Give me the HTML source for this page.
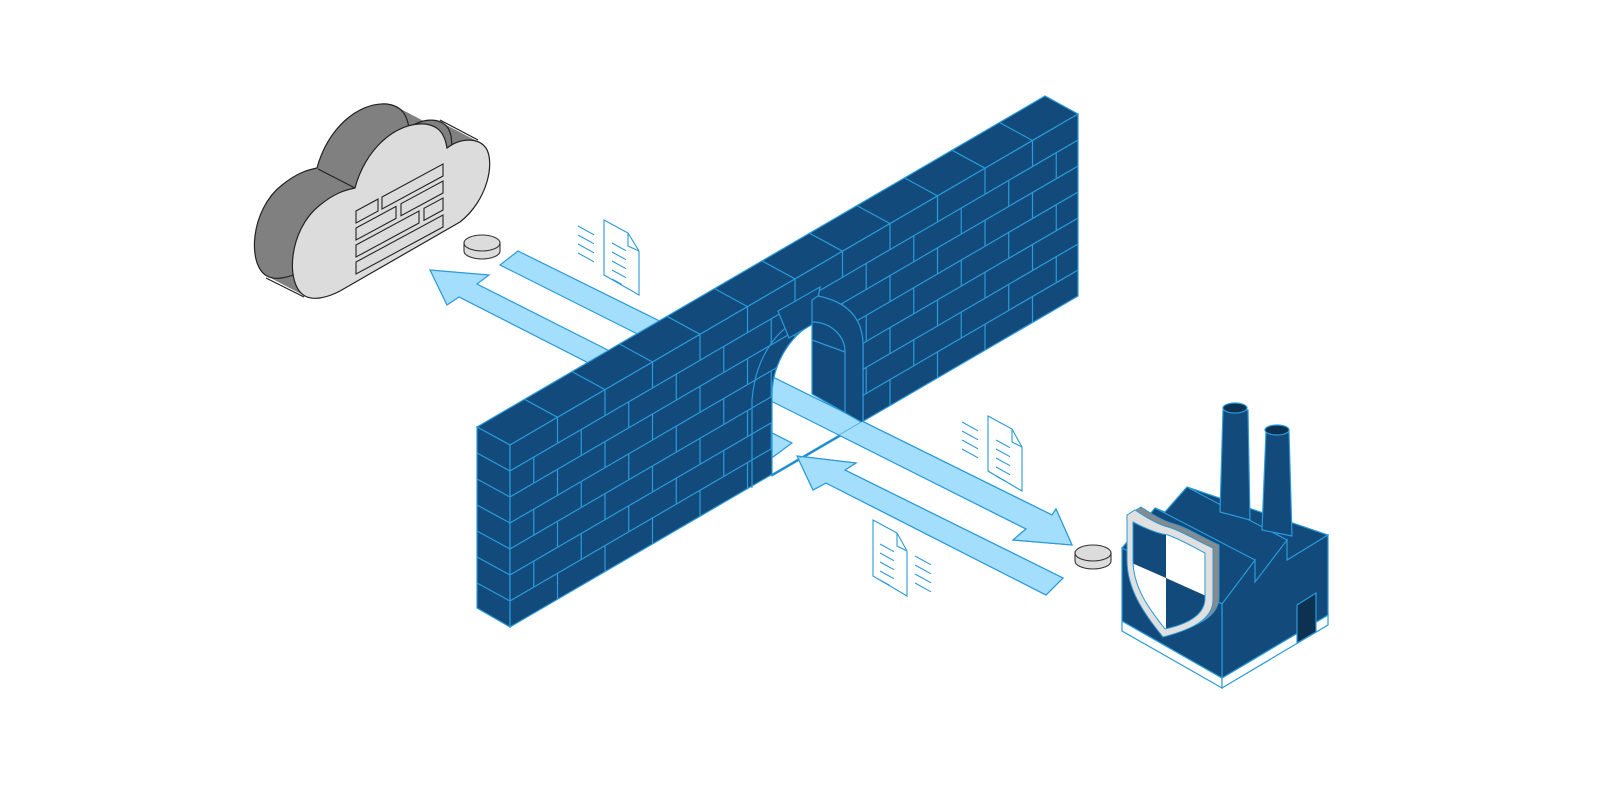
<!DOCTYPE html>
<html><head><meta charset="utf-8"><style>html,body{margin:0;padding:0;background:#fff}svg{display:block}</style></head>
<body>
<svg width="1600" height="800" viewBox="0 0 1600 800" xmlns="http://www.w3.org/2000/svg">
<defs>
<clipPath id="wallclip"><path clip-rule="evenodd" d="M510,445 L1078,114 L1078,296 L510,627 Z M772,476 L772,396 C772,360 795,330 817,322 C840,314 863,322 863,343 L863,423 Z"/></clipPath>
<clipPath id="front"><polygon points="0,924 1600,-8 1600,800 0,800"/></clipPath>
<g id="arrows">
<polygon points="430,270 489,275 477,284 792,443 773,457 459,297 447,305" fill="#a3defc" stroke="#2a9ad8" stroke-width="1.2"/>
<polygon points="518,251 1052,515 1056,509 1072,545 1013,540 1026,529 500,265" fill="#a3defc" stroke="#2a9ad8" stroke-width="1.2"/>
<polygon points="797,456 856,463 845,470 1063,578 1046,595 826,483 813,490" fill="#a3defc" stroke="#2a9ad8" stroke-width="1.2"/>
</g>
<path id="cloudP" d="M305,296 C285,285 288,230 320,205 C335,193 345,190 355,188 C365,150 395,122 425,124 C440,126 445,135 447,148 C460,138 478,137 486,148 C495,162 488,200 460,222 L340,291 C325,299 312,300 305,296 Z"/>
<path id="evenJ" d="M557.5,417.3v26M605,389.6v26M652.5,362v26M700,334.3v26M747.5,306.6v26M795,278.9v26M842.5,251.2v26M890,223.6v26M937.5,195.9v26M985,168.2v26M1032.5,140.5v26"/>
<path id="oddJ" d="M533.75,457.2v26M581.25,429.5v26M628.75,401.8v26M676.25,374.1v26M723.75,346.4v26M771.25,318.8v26M818.75,291.1v26M866.25,263.4v26M913.75,235.7v26M961.25,208v26M1008.75,180.4v26M1056.25,152.7v26"/>
</defs>

<!-- cloud back sweep -->
<g fill="#808080">
<use href="#cloudP" transform="translate(-2,-1.05)"/><use href="#cloudP" transform="translate(-4,-2.1)"/><use href="#cloudP" transform="translate(-6,-3.15)"/><use href="#cloudP" transform="translate(-8,-4.2)"/><use href="#cloudP" transform="translate(-10,-5.25)"/><use href="#cloudP" transform="translate(-12,-6.3)"/><use href="#cloudP" transform="translate(-14,-7.35)"/><use href="#cloudP" transform="translate(-16,-8.4)"/><use href="#cloudP" transform="translate(-18,-9.45)"/><use href="#cloudP" transform="translate(-20,-10.5)"/><use href="#cloudP" transform="translate(-22,-11.55)"/><use href="#cloudP" transform="translate(-24,-12.6)"/><use href="#cloudP" transform="translate(-26,-13.65)"/><use href="#cloudP" transform="translate(-28,-14.7)"/><use href="#cloudP" transform="translate(-30,-15.75)"/><use href="#cloudP" transform="translate(-32,-16.8)"/><use href="#cloudP" transform="translate(-34,-17.85)"/><use href="#cloudP" transform="translate(-36,-18.9)"/>
</g>
<use href="#cloudP" transform="translate(-38,-20)" fill="#808080" stroke="#222" stroke-width="1.2"/>
<g stroke="#222" stroke-width="1.2"><line x1="318" y1="169" x2="355" y2="188"/><line x1="266" y1="278" x2="304" y2="297"/><line x1="440" y1="120" x2="478" y2="140"/></g>
<use href="#cloudP" fill="#dcdcdc" stroke="#222" stroke-width="1.2"/>
<g fill="none" stroke="#222" stroke-width="1.1">
<polygon points="356,211 378,199.1 378,211.1 356,223"/>
<polygon points="382,197 443,164 443,176 382,209"/>
<polygon points="356,228 396,206.4 396,218.4 356,240"/>
<polygon points="401,203.7 443,181 443,193 401,215.7"/>
<polygon points="356,245 419,211 419,223 356,257"/>
<polygon points="424,208.3 443,198 443,210 424,220.3"/>
<polygon points="356,262 443,215 443,227 356,274"/>
</g>

<!-- coins -->
<g stroke="#333" stroke-width="1.1" fill="#dcdcdc">
<path d="M464,243 L464,251 A18,8 0 0 0 500,251 L500,243 Z"/><ellipse cx="482" cy="243" rx="18" ry="8"/>
<path d="M1075,553 L1075,561 A18,8 0 0 0 1111,561 L1111,553 Z"/><ellipse cx="1093" cy="553" rx="18" ry="8"/>
</g>

<use href="#arrows"/>

<!-- wall -->
<polygon points="477,427 510,445 1078,114 1045,96" fill="#134a7c" stroke="#2a9ad8" stroke-width="1.2"/>
<polygon points="477,427 510,445 510,627 477,608" fill="#134a7c" stroke="#2a9ad8" stroke-width="1.2"/>
<path fill-rule="evenodd" d="M510,445 L1078,114 L1078,296 L510,627 Z M772,476 L772,396 C772,360 795,330 817,322 C840,314 863,322 863,343 L863,423 Z" fill="#134a7c" stroke="#2a9ad8" stroke-width="1.2"/>
<g clip-path="url(#wallclip)" stroke="#2a9ad8" stroke-width="1.2" fill="none">
<path d="M510,471L1078,140M510,497L1078,166M510,523L1078,192M510,549L1078,218M510,575L1078,244M510,601L1078,270"/>
<use href="#evenJ"/><use href="#evenJ" transform="translate(0,52)"/><use href="#evenJ" transform="translate(0,104)"/><use href="#evenJ" transform="translate(0,156)"/>
<use href="#oddJ"/><use href="#oddJ" transform="translate(0,52)"/><use href="#oddJ" transform="translate(0,104)"/>
</g>
<path stroke="#2a9ad8" stroke-width="1.2" fill="none" d="M557.5,417.3l-33,-18M605,389.6l-33,-18M652.5,362l-33,-18M700,334.3l-33,-18M747.5,306.6l-33,-18M795,278.9l-33,-18M842.5,251.2l-33,-18M890,223.6l-33,-18M937.5,195.9l-33,-18M985,168.2l-33,-18M1032.5,140.5l-33,-18M477,453L510,471M477,479L510,497M477,505L510,523M477,531L510,549M477,557L510,575M477,583L510,601"/>
<path d="M752,488 L752,400 C755,360 775,332 795,322" fill="none" stroke="#2a9ad8" stroke-width="1.2"/>
<polygon points="778,311 820,287 813,324 789,338" fill="#134a7c" stroke="#2a9ad8" stroke-width="1.2"/>
<path d="M863,423 L863,343 C862,318 848,302 818,296 L812,300 L812,394 Z" fill="#134a7c" stroke="#2a9ad8" stroke-width="1.2"/>
<path d="M812,322 C830,322 845,335 845,352 L845,413" fill="none" stroke="#2a9ad8" stroke-width="1.2"/>
<line x1="812" y1="340" x2="845" y2="352" stroke="#2a9ad8" stroke-width="1.2"/>

<g clip-path="url(#front)"><use href="#arrows"/></g>

<!-- documents -->
<g fill="#fff" stroke="#2a9ad8" stroke-width="1.1">
<path d="M604,220 L628,233 L639,251 L639,295 L604,275 Z"/><path d="M628,233 L628,246 L639,251" fill="none"/>
<path d="M988,416 L1012,429 L1022,447 L1022,491 L988,471 Z"/><path d="M1012,429 L1012,442 L1022,447" fill="none"/>
<path d="M873,520 L897,533 L907,551 L907,596 L873,576 Z"/><path d="M897,533 L897,546 L907,551" fill="none"/>
</g>
<path stroke="#2a9ad8" stroke-width="1.1" fill="none" d="
M578,226l16,8.8M578,235l16,8.8M578,244l16,8.8M578,253l16,8.8
M962,422l16,8.8M962,431l16,8.8M962,440l16,8.8M962,449l16,8.8
M915,556l16,8.8M915,565l16,8.8M915,574l16,8.8M915,583l16,8.8
M612,243l14,7.7M612,252l14,7.7M612,261l14,7.7M612,270l14,7.7M612,279l10,5.5
M996,440l14,7.7M996,449l14,7.7M996,458l14,7.7M996,467l14,7.7M996,476l10,5.5
M880,544l14,7.7M880,553l14,7.7M880,562l14,7.7M880,571l14,7.7M880,580l10,5.5"/>

<!-- factory -->
<g stroke="#2a9ad8" stroke-width="1.2">
<polygon points="1122,621 1222,678 1222,688 1122,631" fill="#fff"/>
<polygon points="1222,678 1328,615 1328,625 1222,688" fill="#fff"/>
<polygon points="1122,548 1155,508 1165,512 1187,487 1328,535 1222,604" fill="#134a7c"/>
<polygon points="1222,604 1255,560 1255,582 1287,540 1287,560 1328,535 1328,615 1222,678" fill="#134a7c"/>
<polygon points="1122,548 1222,604 1222,678 1122,621" fill="#134a7c"/>
<line x1="1155" y1="508" x2="1255" y2="560"/><line x1="1187" y1="487" x2="1287" y2="540"/>
<path d="M1223,410 L1220,512 L1250,520 L1248,410 Z" fill="#134a7c"/>
<ellipse cx="1235" cy="408" rx="12" ry="5" fill="#0d3150"/>
<path d="M1266,431 L1262,530 L1292,536 L1289,431 Z" fill="#134a7c"/>
<ellipse cx="1277" cy="430" rx="12" ry="5" fill="#0d3150"/>
<polygon points="1297,605 1316,593 1316,632 1297,643" fill="#0d3150"/>
</g>
<defs><clipPath id="sh"><path d="M1133,522 C1148,530 1160,534 1168,535 C1182,540 1195,548 1205,553 L1205,598 C1205,615 1188,624 1165,629 C1150,610 1133,588 1133,560 Z"/></clipPath></defs>
<path transform="translate(6,-3)" d="M1127,515 L1135,510 C1150,520 1160,525 1168,527 C1180,530 1195,540 1213,548 L1213,600 C1213,620 1190,630 1163,637 C1145,615 1127,590 1127,560 Z" fill="#8a8a8a" stroke="#2a9ad8" stroke-width="1"/>
<path d="M1127,515 L1135,510 C1150,520 1160,525 1168,527 C1180,530 1195,540 1213,548 L1213,600 C1213,620 1190,630 1163,637 C1145,615 1127,590 1127,560 Z" fill="#e0e0e0" stroke="#2a9ad8" stroke-width="1"/>
<g clip-path="url(#sh)">
<rect x="1125" y="510" width="90" height="130" fill="#fff"/>
<polygon points="1125,510 1166,510 1166,578 1125,560" fill="#134a7c"/>
<polygon points="1166,578 1215,600 1215,640 1166,640" fill="#134a7c"/>
</g>
<path d="M1133,522 C1148,530 1160,534 1168,535 C1182,540 1195,548 1205,553 L1205,598 C1205,615 1188,624 1165,629 C1150,610 1133,588 1133,560 Z" fill="none" stroke="#2a9ad8" stroke-width="1"/>
</svg>
</body></html>
